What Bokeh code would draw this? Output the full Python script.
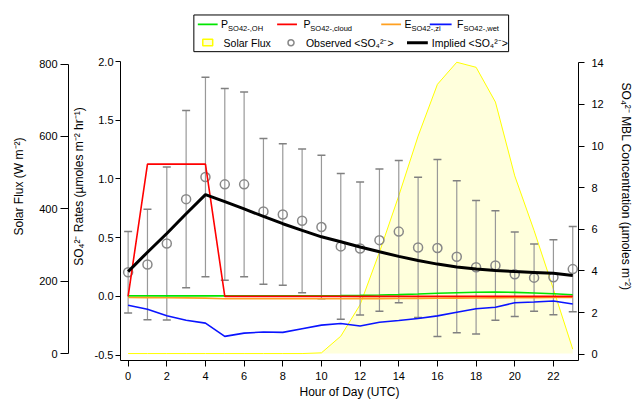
from bokeh.plotting import figure
from bokeh.models import Range1d, LinearAxis, FixedTicker, NumeralTickFormatter, ColumnDataSource
from bokeh.core.properties import value
from bokeh.embed import file_html
from bokeh.resources import INLINE

# ---------------- data ----------------
hours = list(range(24))
x_ticks = list(range(0, 23, 2))
rate_ticks = [-0.5, 0.0, 0.5, 1.0, 1.5, 2.0]
solar_ticks = [0, 200, 400, 600, 800]
conc_ticks = [0, 2, 4, 6, 8, 10, 12, 14]

p_oh = [0.004, 0.004, 0.004, 0.004, 0.004, 0.004, 0.004, 0.004, 0.004, 0.004, 0.005, 0.006,
        0.008, 0.011, 0.015, 0.020, 0.026, 0.031, 0.035, 0.036, 0.034, 0.029, 0.022, 0.014]
p_cloud = [0.0, 1.126, 1.126, 1.126, 1.126, 0.0, 0.0, 0.0, 0.0, 0.0, 0.0, 0.0,
           0.0, 0.0, 0.0, 0.0, 0.0, 0.0, 0.0, 0.0, 0.0, 0.0, 0.0, 0.0]
e_zi = [-0.010, -0.011, -0.012, -0.013, -0.015, -0.020, -0.021, -0.021, -0.021, -0.021, -0.020, -0.020,
        -0.019, -0.019, -0.018, -0.017, -0.016, -0.015, -0.014, -0.013, -0.012, -0.011, -0.010, -0.010]
f_wet = [-0.076, -0.110, -0.166, -0.203, -0.228, -0.341, -0.313, -0.304, -0.307, -0.276, -0.245, -0.231,
         -0.253, -0.220, -0.206, -0.189, -0.166, -0.135, -0.105, -0.093, -0.054, -0.048, -0.040, -0.065]
solar_flux = [0, 0, 0, 0, 0, 0, 0, 0, 0, 0, 2, 48,
              135, 280, 436, 601, 744, 805, 791, 695, 491, 340, 178, 12]
obs_conc = [3.94, 4.31, 5.32, 7.45, 8.51, 8.16, 8.16, 6.86, 6.71, 6.41, 6.11, 5.18,
            5.08, 5.48, 5.89, 5.13, 5.10, 4.68, 4.18, 4.26, 3.84, 3.68, 3.70, 4.09]
obs_err = [1.96, 2.65, 3.67, 4.26, 4.79, 4.60, 4.44, 3.50, 3.40, 3.45, 3.45, 3.50,
           3.19, 3.42, 3.42, 3.37, 4.25, 3.65, 3.21, 2.63, 2.03, 1.62, 1.80, 2.05]
implied_conc = [3.97, 4.90, 5.80, 6.75, 7.67, 7.33, 6.98, 6.62, 6.27, 5.95, 5.64, 5.40,
                5.15, 4.92, 4.70, 4.50, 4.33, 4.19, 4.09, 4.02, 3.97, 3.93, 3.89, 3.78]

# ---------------- layout (page pixels of the reference) ----------------
W, H = 635, 401
OFF = 0  # page offset of the figure
FRAME_L, FRAME_R, FRAME_T, FRAME_B = 120, 582, 12, 363


def hx(px):
    return (px - 127.7) / 19.5


def ry(py):
    return (298.3 - py) / 118.4


def sy(py):
    return (356.0 - py) / 0.365


def cy(py):
    return (356.7 - py) / 21.0


FONT = "Liberation Sans"

p = figure(width=W, height=H, output_backend="svg", toolbar_location=None,
           x_range=Range1d(hx(FRAME_L), hx(FRAME_R)),
           y_range=Range1d(ry(FRAME_B), ry(FRAME_T)),
           min_border_left=FRAME_L - OFF, min_border_right=OFF + W - FRAME_R,
           min_border_top=FRAME_T - OFF, min_border_bottom=OFF + H - FRAME_B)
p.extra_y_ranges = {"solar": Range1d(sy(FRAME_B), sy(FRAME_T)),
                    "conc": Range1d(cy(FRAME_B), cy(FRAME_T))}
p.outline_line_color = None
p.xgrid.visible = False
p.ygrid.visible = False
p.background_fill_color = "white"
p.border_fill_color = "white"


def style_axis(ax, tick_out, standoff, label_standoff):
    ax.axis_label_text_font = FONT
    ax.axis_label_text_font_size = "12px"
    ax.axis_label_text_font_style = "normal"
    ax.axis_label_text_color = "black"
    ax.major_label_text_font = FONT
    ax.major_label_text_font_size = "11px"
    ax.major_label_text_color = "black"
    ax.major_tick_out = tick_out
    ax.major_tick_in = 0
    ax.minor_tick_line_color = None
    ax.major_label_standoff = standoff
    ax.axis_label_standoff = label_standoff
    ax.axis_line_color = "black"
    ax.major_tick_line_color = "black"


xa = p.xaxis[0]
xa.ticker = FixedTicker(ticks=x_ticks)
xa.axis_label = "Hour of Day (UTC)"
style_axis(xa, 6, 5, 2)

ya = p.yaxis[0]
ya.ticker = FixedTicker(ticks=rate_ticks)
ya.formatter = NumeralTickFormatter(format="0.0")
ya.axis_label = "SO₄²⁻ Rates (µmoles m⁻² hr⁻¹)"
ya.bounds = (ry(FRAME_B), 2.0)
style_axis(ya, 5, 2, 6)

spacer = LinearAxis(ticker=FixedTicker(ticks=[]), axis_line_color=None,
                    major_tick_out=8, major_tick_in=0, major_label_standoff=0,
                    minor_tick_line_color=None, major_tick_line_color=None)
p.add_layout(spacer, "left")

sa = LinearAxis(y_range_name="solar", ticker=FixedTicker(ticks=solar_ticks),
                axis_label="Solar Flux (W m⁻²)", bounds=(0, 800))
style_axis(sa, 8, 3, 10)
p.add_layout(sa, "left")

ca = LinearAxis(y_range_name="conc", ticker=FixedTicker(ticks=conc_ticks),
                axis_label="SO₄²⁻ MBL Concentration (µmoles m⁻²)", bounds=(cy(FRAME_B), 14))
style_axis(ca, 6, 7, 12)
p.add_layout(ca, "right")

# ---------------- glyphs ----------------
zeros = [0] * len(hours)
p.varea(x=hours, y1=zeros, y2=solar_flux, y_range_name="solar", fill_color="#ffffdc")
p.line(hours, solar_flux, y_range_name="solar", line_color="#ffff00", line_width=1)

lower = [c - e for c, e in zip(obs_conc, obs_err)]
upper = [c + e for c, e in zip(obs_conc, obs_err)]
p.segment(x0=hours, y0=lower, x1=hours, y1=upper, y_range_name="conc",
          line_color="#999999", line_width=1.2)
p.scatter(hours, upper, marker="dash", size=8, line_color="#808080", line_width=1.5, y_range_name="conc")
p.scatter(hours, lower, marker="dash", size=8, line_color="#808080", line_width=1.5, y_range_name="conc")
p.scatter(hours, obs_conc, marker="circle", size=9, fill_color=None, line_color="#888888",
          line_width=1.5, y_range_name="conc")

p.line(hours, p_oh, line_color="#00e600", line_width=1.6)
p.line(hours, e_zi, line_color="#ffa020", line_width=1.6)
p.line(hours, p_cloud, line_color="#ff0000", line_width=1.6)
p.line(hours, f_wet, line_color="#0a14ff", line_width=1.6)
p.line(hours, implied_conc, y_range_name="conc", line_color="black", line_width=3)

# ---------------- legend (drawn by hand for sub/superscripts) ----------------
p.quad(left=[hx(194)], right=[hx(511.5)], bottom=[ry(51.5)], top=[ry(14.5)],
       fill_color="white", line_color="black", line_width=1)
leg_colors = ["#00e600", "#ff0000", "#ffa020", "#0a14ff", "black"]
leg_x0 = [198, 278, 383, 432, 409]
leg_x1 = [218, 298, 403, 454, 430]
leg_y = [24, 24, 24, 24, 42.5]
p.multi_line(xs=[[hx(a), hx(b)] for a, b in zip(leg_x0, leg_x1)],
             ys=[[ry(y), ry(y)] for y in leg_y],
             line_color=leg_colors, line_width=[1.6, 1.6, 1.6, 1.6, 3])
p.quad(left=[hx(203)], right=[hx(213)], bottom=[ry(45.5)], top=[ry(39)],
       fill_color="#ffffdc", line_color="#ffff00", line_width=1.5)
p.scatter([hx(292)], [ry(42.5)], marker="circle", size=6, fill_color=None,
          line_color="#888888", line_width=1.5)

leg_text = ["P", "P", "E", "F", "Solar Flux", "Observed <SO₄²⁻>", "Implied <SO₄²⁻>",
            "SO42-,OH", "SO42-,cloud", "SO42-,zi", "SO42-,wet"]
leg_tx = [221.5, 304.5, 406.5, 459.5, 224, 307, 434, 228.5, 311.5, 413.5, 466]
leg_ty = [24, 24, 24, 24, 42.5, 42.5, 42.5, 28, 28, 28, 28]
leg_size = ["10.5px"] * 7 + ["7.5px"] * 4
src = ColumnDataSource(dict(x=[hx(v) for v in leg_tx], y=[ry(v) for v in leg_ty],
                            text=leg_text, size=leg_size))
p.text(x="x", y="y", text="text", text_font_size="size", source=src,
       text_font=value(FONT), text_baseline="middle", text_align="left", text_color="black")

open("out.html", "w").write(file_html(p, INLINE))
